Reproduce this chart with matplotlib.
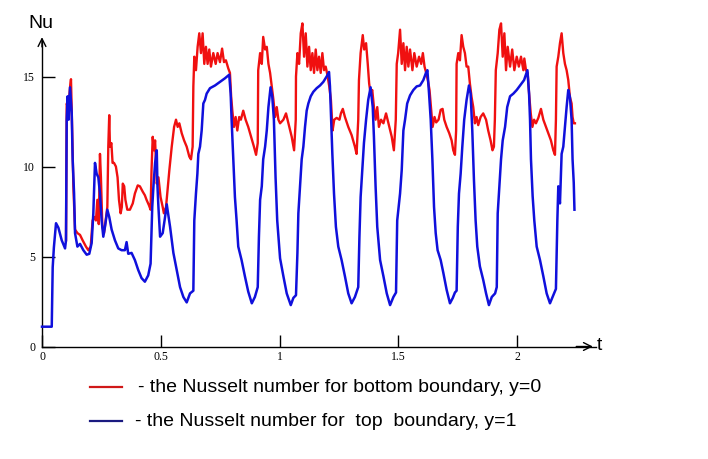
"""
Nusselt number at the bottom (y=0) and top (y=1) boundaries vs time t.
Values read off the reference picture.
"""

import matplotlib
matplotlib.use("Agg")
import matplotlib.pyplot as plt

# ── Data ───────────────────────────────────────────────────────────────────────
t_top = [
    0.000, 0.041, 0.045, 0.050, 0.059, 0.069, 0.083, 0.097, 0.101, 0.104,
    0.108, 0.112, 0.118, 0.125, 0.129, 0.135, 0.139, 0.149, 0.160, 0.174,
    0.188, 0.199, 0.209, 0.216, 0.223, 0.230, 0.237, 0.244, 0.251, 0.258,
    0.265, 0.275, 0.283, 0.293, 0.307, 0.321, 0.335, 0.349, 0.356, 0.363,
    0.377, 0.391, 0.405, 0.419, 0.433, 0.447, 0.457, 0.464, 0.469, 0.476,
    0.483, 0.486, 0.490, 0.497, 0.508, 0.518, 0.525, 0.539, 0.553, 0.567,
    0.581, 0.595, 0.609, 0.623, 0.637, 0.641, 0.648, 0.654, 0.658, 0.665,
    0.672, 0.679, 0.686, 0.693, 0.707, 0.728, 0.749, 0.770, 0.788, 0.794,
    0.798, 0.805, 0.812, 0.819, 0.826, 0.840, 0.854, 0.868, 0.883, 0.896,
    0.908, 0.913, 0.918, 0.925, 0.931, 0.939, 0.946, 0.953, 0.962, 0.969,
    0.976, 0.983, 0.990, 1.002, 1.016, 1.030, 1.047, 1.058, 1.069, 1.075,
    1.079, 1.086, 1.093, 1.100, 1.107, 1.114, 1.121, 1.131, 1.142, 1.156,
    1.170, 1.184, 1.198, 1.208, 1.212, 1.216, 1.222, 1.229, 1.237, 1.247,
    1.261, 1.275, 1.289, 1.303, 1.317, 1.331, 1.336, 1.341, 1.348, 1.355,
    1.364, 1.373, 1.383, 1.392, 1.397, 1.404, 1.411, 1.423, 1.437, 1.451,
    1.465, 1.479, 1.490, 1.495, 1.507, 1.514, 1.521, 1.528, 1.537, 1.549,
    1.563, 1.577, 1.591, 1.605, 1.616, 1.622, 1.629, 1.636, 1.643, 1.650,
    1.657, 1.665, 1.678, 1.689, 1.703, 1.717, 1.729, 1.738, 1.745, 1.750,
    1.755, 1.762, 1.769, 1.777, 1.787, 1.797, 1.804, 1.811, 1.818, 1.825,
    1.832, 1.843, 1.857, 1.869, 1.881, 1.893, 1.907, 1.914, 1.918, 1.925,
    1.932, 1.939, 1.949, 1.958, 1.970, 1.984, 1.998, 2.012, 2.029, 2.043,
    2.050, 2.054, 2.058, 2.065, 2.072, 2.082, 2.096, 2.110, 2.124, 2.138,
    2.152, 2.163, 2.169, 2.173, 2.180, 2.187, 2.194, 2.201, 2.208, 2.215,
    2.222, 2.229, 2.233, 2.238, 2.241,
]
nu_top = [
    1.10, 1.10, 4.40, 5.50, 6.85, 6.60, 5.90, 5.45, 5.90, 12.60,
    13.90, 12.60, 14.40, 13.00, 10.40, 8.50, 6.30, 5.55, 5.70, 5.35,
    5.10, 5.15, 5.75, 7.40, 10.20, 9.60, 9.40, 8.50, 7.00, 6.10,
    6.65, 7.60, 7.20, 6.50, 5.90, 5.45, 5.35, 5.35, 5.80, 5.15,
    5.20, 4.80, 4.25, 3.80, 3.60, 3.95, 4.60, 7.75, 8.90, 10.20,
    10.90, 8.90, 7.75, 6.10, 6.30, 7.20, 7.90, 6.65, 5.20, 4.25,
    3.30, 2.75, 2.45, 2.95, 3.10, 7.00, 8.50, 9.60, 10.70, 11.10,
    12.00, 13.50, 13.70, 14.05, 14.35, 14.50, 14.70, 14.90, 15.10, 14.05,
    12.60, 10.40, 8.30, 7.00, 5.55, 4.80, 3.90, 3.05, 2.40, 2.75,
    3.30, 6.10, 8.15, 8.90, 10.40, 11.10, 12.00, 13.30, 14.40, 13.90,
    12.60, 9.40, 7.00, 4.90, 3.90, 2.95, 2.30, 2.70, 2.85, 5.20,
    7.40, 8.90, 10.40, 11.10, 12.20, 13.10, 13.50, 13.90, 14.15, 14.35,
    14.50, 14.70, 15.00, 15.25, 14.45, 12.95, 10.70, 8.50, 6.65, 5.55,
    4.80, 3.90, 2.95, 2.40, 2.75, 3.30, 6.10, 8.30, 9.80, 11.30,
    12.60, 13.70, 14.40, 13.30, 11.65, 8.90, 6.65, 4.80, 3.90, 2.95,
    2.30, 2.75, 3.00, 7.00, 8.50, 9.80, 12.00, 12.60, 13.50, 13.95,
    14.25, 14.45, 14.50, 14.80, 15.20, 15.35, 14.05, 12.60, 10.40, 7.75,
    6.30, 5.35, 4.80, 4.10, 3.15, 2.40, 2.70, 3.00, 3.10, 6.65,
    8.50, 9.60, 11.10, 12.60, 13.70, 14.50, 14.05, 12.00, 9.25, 7.00,
    5.55, 4.45, 3.70, 2.95, 2.30, 2.75, 2.95, 3.30, 7.40, 8.90,
    10.40, 11.45, 12.20, 13.30, 13.90, 14.05, 14.25, 14.50, 14.80, 15.35,
    14.05, 12.60, 10.40, 8.35, 7.00, 5.55, 4.80, 3.90, 2.95, 2.40,
    2.85, 3.20, 7.00, 8.90, 7.95, 10.70, 11.10, 12.20, 13.30, 14.25,
    13.85, 12.60, 10.40, 9.10, 7.60,
]

t_bottom = [
    0.101, 0.104, 0.111, 0.118, 0.122, 0.126, 0.132, 0.139, 0.149, 0.160,
    0.171, 0.185, 0.195, 0.205, 0.213, 0.220, 0.227, 0.233, 0.239, 0.244,
    0.248, 0.254, 0.261, 0.268, 0.275, 0.279, 0.283, 0.286, 0.292, 0.297,
    0.303, 0.311, 0.318, 0.324, 0.331, 0.336, 0.340, 0.346, 0.351, 0.359,
    0.370, 0.382, 0.391, 0.403, 0.412, 0.424, 0.433, 0.440, 0.450, 0.457,
    0.461, 0.466, 0.471, 0.476, 0.483, 0.490, 0.499, 0.508, 0.513, 0.522,
    0.527, 0.536, 0.546, 0.556, 0.564, 0.571, 0.578, 0.588, 0.598, 0.609,
    0.620, 0.627, 0.634, 0.637, 0.641, 0.648, 0.655, 0.662, 0.669, 0.676,
    0.683, 0.690, 0.697, 0.704, 0.711, 0.721, 0.731, 0.739, 0.749, 0.758,
    0.766, 0.774, 0.784, 0.791, 0.796, 0.801, 0.808, 0.815, 0.822, 0.830,
    0.837, 0.847, 0.857, 0.868, 0.880, 0.892, 0.901, 0.908, 0.910, 0.918,
    0.925, 0.931, 0.939, 0.946, 0.953, 0.960, 0.967, 0.974, 0.981, 0.988,
    0.995, 1.002, 1.016, 1.027, 1.037, 1.051, 1.061, 1.068, 1.069, 1.075,
    1.082, 1.089, 1.096, 1.103, 1.110, 1.117, 1.124, 1.131, 1.138, 1.145,
    1.152, 1.159, 1.166, 1.173, 1.180, 1.187, 1.194, 1.201, 1.209, 1.216,
    1.223, 1.230, 1.240, 1.252, 1.258, 1.266, 1.275, 1.289, 1.303, 1.317,
    1.324, 1.331, 1.334, 1.341, 1.350, 1.356, 1.364, 1.371, 1.377, 1.383,
    1.390, 1.397, 1.404, 1.411, 1.418, 1.427, 1.437, 1.448, 1.458, 1.472,
    1.481, 1.489, 1.493, 1.499, 1.507, 1.514, 1.521, 1.528, 1.535, 1.542,
    1.549, 1.559, 1.567, 1.577, 1.587, 1.596, 1.603, 1.610, 1.617, 1.624,
    1.631, 1.638, 1.644, 1.652, 1.659, 1.669, 1.678, 1.686, 1.693, 1.703,
    1.714, 1.724, 1.731, 1.738, 1.743, 1.745, 1.752, 1.759, 1.766, 1.773,
    1.780, 1.787, 1.794, 1.801, 1.808, 1.815, 1.822, 1.829, 1.836, 1.846,
    1.857, 1.869, 1.878, 1.888, 1.896, 1.902, 1.906, 1.910, 1.918, 1.925,
    1.932, 1.939, 1.946, 1.953, 1.960, 1.970, 1.979, 1.988, 1.998, 2.007,
    2.016, 2.026, 2.030, 2.037, 2.044, 2.050, 2.057, 2.064, 2.071, 2.079,
    2.089, 2.100, 2.110, 2.121, 2.131, 2.142, 2.152, 2.159, 2.163, 2.166,
    2.173, 2.180, 2.187, 2.194, 2.201, 2.208, 2.215, 2.222, 2.229, 2.233,
    2.238, 2.243,
]
nu_bottom = [
    5.90, 13.50, 13.30, 14.40, 14.85, 12.60, 8.90, 6.50, 6.30, 6.20,
    5.90, 5.55, 5.35, 5.55, 7.00, 7.20, 7.00, 8.15, 6.80, 10.70,
    9.40, 6.65, 6.30, 7.00, 7.75, 11.10, 12.85, 11.10, 11.30, 10.20,
    10.20, 10.00, 9.40, 8.15, 7.40, 7.75, 9.05, 8.90, 8.15, 7.60,
    7.60, 7.95, 8.50, 8.95, 8.90, 8.60, 8.40, 8.15, 7.85, 7.60,
    9.80, 11.65, 10.90, 11.45, 9.05, 9.40, 8.30, 7.75, 7.40, 7.75,
    8.50, 9.80, 11.10, 12.20, 12.60, 12.20, 12.40, 11.85, 11.45, 11.10,
    10.55, 10.40, 11.10, 14.45, 16.10, 15.35, 16.65, 17.40, 16.30, 17.40,
    15.70, 16.65, 15.70, 16.50, 15.55, 16.30, 15.70, 16.30, 15.80, 16.55,
    15.80, 15.90, 15.45, 15.20, 13.90, 13.10, 12.20, 12.75, 12.00, 12.75,
    12.60, 13.10, 12.60, 12.20, 11.65, 11.10, 10.65, 11.30, 15.35, 16.30,
    15.70, 17.20, 16.50, 16.65, 15.70, 15.20, 14.45, 13.70, 12.75, 13.30,
    12.60, 12.40, 12.60, 12.95, 12.40, 11.65, 10.90, 12.60, 15.00, 16.30,
    15.70, 17.40, 17.95, 16.10, 17.40, 15.55, 16.65, 15.35, 16.30, 15.20,
    16.50, 15.35, 16.10, 15.20, 16.30, 15.35, 15.55, 15.10, 14.45, 13.70,
    12.00, 12.60, 12.70, 12.60, 12.95, 13.20, 12.75, 12.20, 11.75, 11.10,
    10.70, 12.60, 14.80, 16.30, 17.30, 16.50, 16.85, 15.70, 14.60, 14.05,
    14.25, 13.30, 12.60, 13.30, 12.20, 12.60, 12.40, 12.95, 12.40, 11.65,
    10.90, 12.60, 15.70, 16.30, 17.60, 15.70, 16.85, 15.35, 16.65, 15.55,
    16.50, 15.35, 16.30, 15.55, 16.10, 15.70, 16.30, 15.55, 15.20, 14.80,
    14.25, 13.15, 12.20, 12.75, 12.45, 12.60, 13.15, 13.20, 12.60, 12.20,
    11.85, 11.45, 10.90, 10.65, 12.00, 15.70, 16.30, 15.90, 17.30, 16.65,
    16.30, 15.55, 15.55, 14.60, 13.85, 13.30, 12.40, 12.75, 12.30, 12.75,
    12.95, 12.60, 12.00, 11.45, 10.90, 11.10, 12.60, 15.35, 16.30, 17.60,
    17.95, 16.10, 17.40, 15.35, 16.65, 15.55, 16.50, 15.35, 16.10, 15.55,
    16.10, 15.35, 16.00, 15.35, 15.20, 14.05, 12.95, 12.20, 12.60, 12.40,
    12.70, 13.20, 12.60, 12.20, 11.85, 11.45, 10.90, 10.65, 12.60, 15.55,
    16.10, 16.85, 17.40, 16.30, 15.70, 15.35, 14.80, 13.85, 13.50, 12.75,
    12.40, 12.40,
]

x_ticks = [0, 0.5, 1, 1.5, 2]
x_tick_labels = ["0", "0.5", "1", "1.5", "2"]
y_ticks = [0, 5, 10, 15]
y_tick_labels = ["0", "5", "10", "15"]

legend_texts = [
    "- the Nusselt number for bottom boundary, y=0",
    "- the Nusselt number for  top  boundary, y=1",
]

# ── Style ──────────────────────────────────────────────────────────────────────
plt.rcParams.update({
    "font.family": "Liberation Sans",
    "font.size": 12,
})

RED = "#f01010"
BLUE = "#1010dc"

# ── Figure ─────────────────────────────────────────────────────────────────────
fig = plt.figure(figsize=(7.08, 4.59), dpi=100)
fig.patch.set_facecolor("white")

# axes placed so that t=0 -> x=42px, Nu=0 -> y=346px (from top)
ax = fig.add_axes([42 / 708, (459 - 346.5) / 459, 553.6 / 708, 306 / 459])
ax.set_xlim(0, 2.33)
ax.set_ylim(0, 17.0)

ax.plot(t_bottom, nu_bottom, color=RED, lw=1.7, clip_on=False, zorder=2)
ax.plot(t_top, nu_top, color=BLUE, lw=1.8, clip_on=False, zorder=3)

for side in ("top", "right"):
    ax.spines[side].set_visible(False)
for side in ("left", "bottom"):
    ax.spines[side].set_color("black")
    ax.spines[side].set_linewidth(1.0)

ax.set_xticks(x_ticks)
ax.set_xticklabels(x_tick_labels, family="Liberation Serif", fontsize=8.5)
ax.set_yticks(y_ticks)
ax.set_yticklabels(y_tick_labels, family="Liberation Serif", fontsize=8.5)
ax.tick_params(axis="x", direction="in", length=9, width=1, pad=3)
ax.tick_params(axis="y", direction="in", length=9, width=1, pad=5)

# open arrow heads at the axis ends
ax.annotate("", xy=(0, 1.02), xytext=(0, 0.97), xycoords="axes fraction",
            arrowprops=dict(arrowstyle="->", color="black", lw=1.0,
                            mutation_scale=14))
ax.annotate("", xy=(1.0, 0), xytext=(0.96, 0), xycoords="axes fraction",
            arrowprops=dict(arrowstyle="->", color="black", lw=1.0,
                            mutation_scale=14))

# axis names
fig.text(41 / 708, 1 - 23 / 459, "Nu", ha="center", va="center", fontsize=14)
fig.text(599 / 708, 1 - 345 / 459, "t", ha="center", va="center", fontsize=14)

# hand-made legend below the plot
leg_colors = ["#d01818", "#1a1a80"]
leg_y = [387, 421]
leg_x = [138, 135]
for txt, col, yy, xx in zip(legend_texts, leg_colors, leg_y, leg_x):
    yf = 1 - yy / 459
    fig.add_artist(plt.Line2D([90 / 708, 122 / 708], [yf, yf], color=col, lw=1.6))
    fig.text(xx / 708, yf, txt, ha="left", va="center", fontsize=14)

fig.savefig("out.png", dpi=100, facecolor="white")
